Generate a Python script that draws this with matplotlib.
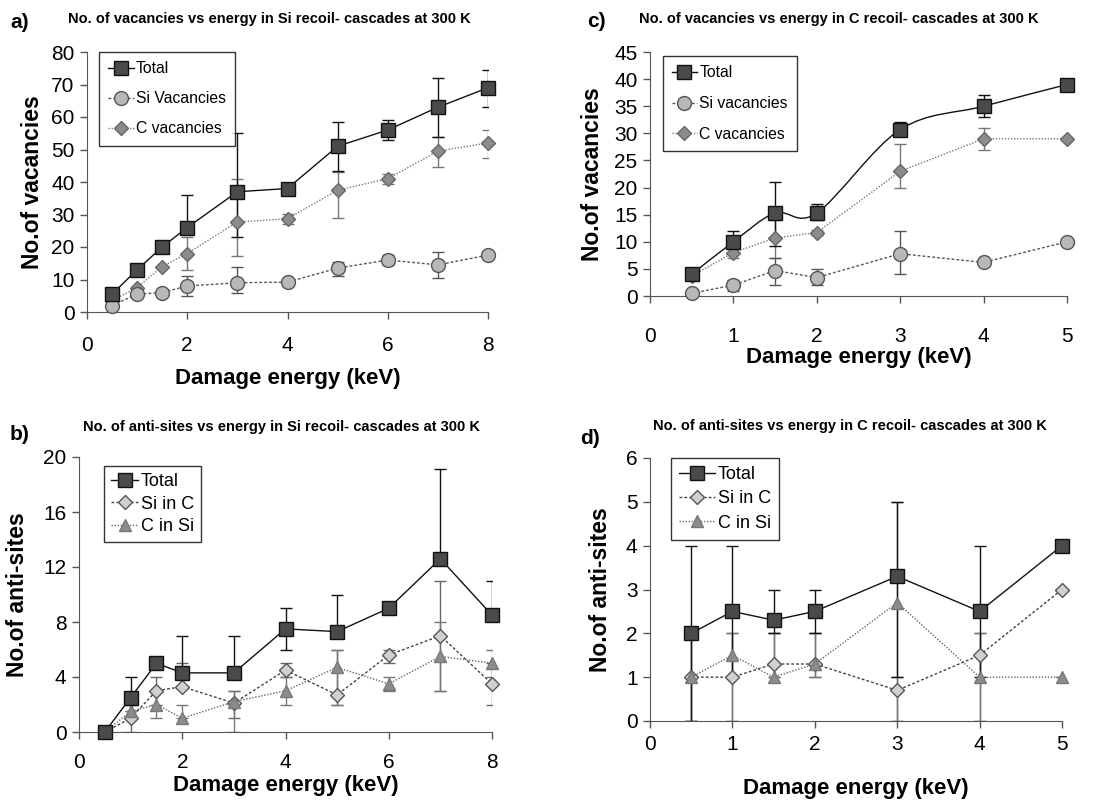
import matplotlib
matplotlib.use("Agg")
import matplotlib.pyplot as plt
import numpy as np
from matplotlib import font_manager
from matplotlib.lines import Line2D
from matplotlib.path import Path
from matplotlib.patches import PathPatch

plt.rcParams['font.family'] = ['Liberation Sans', 'DejaVu Sans']
HAVE_NARROW = any(f.name == 'Liberation Sans Narrow' for f in font_manager.fontManager.ttflist)
NARROW = ['Liberation Sans Narrow', 'Liberation Sans']

# ---- data ----
E_si = [0.5, 1, 1.5, 2, 3, 4, 5, 6, 7, 8]
E_c = [0.5, 1, 1.5, 2, 3, 4, 5]

# a) vacancies, Si recoils
a_total = [5.5, 13, 20, 26, 37, 38, 51, 56, 63, 69]
a_total_lo = [0, 0, 0, 0, 14, 1, 7.5, 3, 9, 6]
a_total_hi = [0, 0, 0, 10, 18, 1, 7.5, 3, 9, 5.5]
a_si = [2, 5.5, 6, 8, 9, 9.2, 13.5, 16, 14.5, 17.5]
a_si_lo = [0, 0, 0, 3, 3, 0, 2.5, 1.5, 4, 0]
a_si_hi = [0, 0, 0, 3, 5, 0, 2, 1.5, 4, 0]
a_c = [3.5, 7.5, 14, 18, 27.7, 28.7, 37.5, 41, 49.5, 52]
a_c_lo = [0, 0, 0, 5, 10.5, 1.5, 8.5, 1.5, 5, 4.5]
a_c_hi = [0, 0, 0, 5, 13.3, 1.5, 5.5, 1.5, 4.5, 4]

# b) anti-sites, Si recoils
b_total = [0, 2.5, 5, 4.3, 4.3, 7.5, 7.3, 9, 12.6, 8.5]
b_total_lo = [0, 1.5, 0, 0, 0, 1.5, 0, 0, 0, 0]
b_total_hi = [0, 1.5, 0, 2.7, 2.7, 1.5, 2.7, 0, 6.5, 2.5]
b_sic = [0, 1, 3, 3.3, 2.1, 4.5, 2.7, 5.6, 7, 3.5]
b_sic_lo = [0, 1, 1, 0, 1.1, 0.5, 0.7, 0.6, 4, 1.5]
b_sic_hi = [0, 1, 1, 1.7, 0.9, 0.5, 3.3, 0.4, 4, 1.5]
b_csi = [0, 1.5, 2, 1, 2.2, 3, 4.7, 3.5, 5.5, 5]
b_csi_lo = [0, 0, 1, 0, 2.2, 1, 2.7, 0.5, 2.5, 1]
b_csi_hi = [0, 0, 1, 1, 0.8, 1, 1.3, 0.5, 2.5, 1]

# c) vacancies, C recoils
c_total = [4, 10, 15.3, 15.3, 30.7, 35, 39]
c_total_lo = [0, 2, 6, 1.3, 1, 2, 0]
c_total_hi = [0, 2, 5.7, 1.7, 1.3, 2, 0]
c_si = [0.5, 2, 4.7, 3.4, 7.8, 6.2, 10]
c_si_lo = [0, 1, 2.7, 1.4, 3.8, 0, 0]
c_si_hi = [0, 1, 2.3, 1.6, 4.2, 0, 0]
c_c = [3.7, 8, 10.7, 11.7, 23, 29, 29]
c_c_lo = [0, 1, 3.7, 0.5, 3, 2, 0]
c_c_hi = [0, 1, 3.3, 0.5, 5, 2, 0]

# d) anti-sites, C recoils
d_total = [2, 2.5, 2.3, 2.5, 3.3, 2.5, 4]
d_total_lo = [2, 1.5, 0.3, 0.5, 2.3, 1.5, 0]
d_total_hi = [2, 1.5, 0.7, 0.5, 1.7, 1.5, 0]
d_sic = [1, 1, 1.3, 1.3, 0.7, 1.5, 3]
d_sic_lo = [1, 1, 0.3, 0.3, 0.7, 1.5, 0]
d_sic_hi = [1, 1, 0.7, 0.7, 0.3, 0.5, 0]
d_csi = [1, 1.5, 1, 1.3, 2.7, 1, 1]
d_csi_lo = [1, 1.5, 0, 0.3, 2.7, 1, 0]
d_csi_hi = [1, 0.5, 1, 0.7, 2.3, 1, 0]

TOT = dict(marker='s', mfc='#4a4a4a', mec='#111111', ms=10, color='#111111', ls='-', lw=1.0)
SIV = dict(marker='o', mfc='#b8b8b8', mec='#555555', ms=10, color='#555555', ls=(0, (2, 1.5)), lw=1.0)
CV = dict(marker='D', mfc='#8c8c8c', mec='#666666', ms=7, color='#777777', ls=(0, (1, 1.2)), lw=1.0)
SIC = dict(marker='D', mfc='#d0d0d0', mec='#555555', ms=7, color='#444444', ls=(0, (2, 1.5)), lw=1.0)
CSI = dict(marker='^', mfc='#8c8c8c', mec='#777777', ms=9, color='#666666', ls=(0, (1, 1.2)), lw=1.0)


def smooth_path(x, y):
    # Bezier path through the points (Catmull-Rom style, like a spreadsheet smoothed line)
    pts = np.column_stack([x, y]).astype(float)
    verts = [pts[0]]
    codes = [Path.MOVETO]
    n = len(pts)
    for i in range(n - 1):
        p0 = pts[i - 1] if i > 0 else pts[i]
        p1, p2 = pts[i], pts[i + 1]
        p3 = pts[i + 2] if i + 2 < n else pts[i + 1]
        verts += [p1 + (p2 - p0) / 6, p2 - (p3 - p1) / 6, p2]
        codes += [Path.CURVE4] * 3
    return Path(verts, codes)


def series(ax, x, y, lo, hi, st, ecolor, smooth=False):
    ax.errorbar(x, y, yerr=[lo, hi], fmt='none', ecolor=ecolor, elinewidth=1.0,
                capsize=4, capthick=1.0, zorder=2)
    if smooth:
        ax.add_patch(PathPatch(smooth_path(x, y), fill=False, edgecolor=st['color'],
                               lw=st['lw'], ls=st['ls'], zorder=3))
        ax.plot(x, y, ls='none', marker=st['marker'], mfc=st['mfc'], mec=st['mec'],
                ms=st['ms'], zorder=4, clip_on=False)
    else:
        ax.plot(x, y, zorder=3, clip_on=False, **st)


def style_axes(ax, xmax, xticks, ymax, yticks, tpad, xlab_y, ylab_x, ylabel):
    ax.set_xlim(0, xmax)
    ax.set_ylim(0, ymax)
    ax.set_xticks(xticks)
    ax.set_yticks(yticks)
    for s in ('top', 'right'):
        ax.spines[s].set_visible(False)
    ax.spines['left'].set_color('#555555')
    ax.spines['bottom'].set_color('#555555')
    ax.tick_params(axis='both', direction='out', length=5, width=1, colors='#555555',
                   labelsize=15, labelcolor='black', pad=4)
    ax.tick_params(axis='x', pad=tpad)
    ax.set_xlabel('Damage energy (keV)', fontsize=16, fontweight='bold', va='center')
    ax.xaxis.set_label_coords(0.5, xlab_y)
    ax.set_ylabel(ylabel, fontsize=16.5, fontweight='bold', va='center')
    ax.yaxis.set_label_coords(ylab_x, 0.5)


def legend(ax, styles, labels, loc, spacing, narrow, bpad, hlen):
    handles = [Line2D([0], [0], **st) for st in styles]
    if narrow:
        prop = dict(size=13, family=NARROW) if HAVE_NARROW else dict(size=11.3)
    else:
        prop = dict(size=13)
    lg = ax.legend(handles, labels, loc='upper left', bbox_to_anchor=loc, prop=prop,
                   frameon=True, fancybox=False, edgecolor='black', handlelength=hlen,
                   handletextpad=0.15, labelspacing=spacing, borderpad=bpad, borderaxespad=0)
    lg.get_frame().set_linewidth(1.0)


fig = plt.figure(figsize=(11.06, 8.01), dpi=100)
W, H = 1106, 801


def axes_px(l, r, top, bottom):
    return fig.add_axes([l / W, 1 - bottom / H, (r - l) / W, (bottom - top) / H])


title_font = dict(fontsize=10.5, fontweight='bold', family=NARROW)

# a)
ax = axes_px(87, 488, 52, 312)
series(ax, E_si, a_c, a_c_lo, a_c_hi, CV, '#777777')
series(ax, E_si, a_si, a_si_lo, a_si_hi, SIV, '#555555')
series(ax, E_si, a_total, a_total_lo, a_total_hi, TOT, '#111111')
style_axes(ax, 8, [0, 2, 4, 6, 8], 80, range(0, 81, 10), 12, -0.254, -0.137, 'No.of vacancies')
legend(ax, [TOT, SIV, CV], ['Total', 'Si Vacancies', 'C vacancies'], (0.03, 1.0), 0.95, True, 0.6, 1.6)
fig.text(10 / W, 1 - 28 / H, 'a)', fontsize=15, fontweight='bold')
fig.text(68 / W, 1 - 23 / H, 'No. of vacancies vs energy in Si recoil- cascades at 300 K', **title_font)

# b)
ax = axes_px(79, 492, 457, 732)
series(ax, E_si, b_sic, b_sic_lo, b_sic_hi, SIC, '#666666')
series(ax, E_si, b_csi, b_csi_lo, b_csi_hi, CSI, '#777777')
series(ax, E_si, b_total, b_total_lo, b_total_hi, TOT, '#111111')
style_axes(ax, 8, [0, 2, 4, 6, 8], 20, [0, 4, 8, 12, 16, 20], 10, -0.196, -0.148, 'No.of anti-sites')
legend(ax, [TOT, SIC, CSI], ['Total', 'Si in C', 'C in Si'], (0.06, 0.967), 0.3, False, 0.4, 1.5)
fig.text(10 / W, 1 - 440 / H, 'b)', fontsize=15, fontweight='bold')
fig.text(83 / W, 1 - 431 / H, 'No. of anti-sites vs energy in Si recoil- cascades at 300 K', **title_font)

# c)
ax = axes_px(650, 1067, 52, 296)
series(ax, E_c, c_c, c_c_lo, c_c_hi, CV, '#777777')
series(ax, E_c, c_si, c_si_lo, c_si_hi, SIV, '#555555')
series(ax, E_c, c_total, c_total_lo, c_total_hi, TOT, '#111111', smooth=True)
style_axes(ax, 5, [0, 1, 2, 3, 4, 5], 45, range(0, 46, 5), 17, -0.25, -0.139, 'No.of vacancies')
legend(ax, [TOT, SIV, CV], ['Total', 'Si vacancies', 'C vacancies'], (0.03, 0.984), 1.0, True, 0.6, 1.6)
fig.text(587 / W, 1 - 27 / H, 'c)', fontsize=15, fontweight='bold')
fig.text(639 / W, 1 - 23 / H, 'No. of vacancies vs energy in C recoil- cascades at 300 K', **title_font)

# d)
ax = axes_px(650, 1062, 458, 721)
series(ax, E_c, d_sic, d_sic_lo, d_sic_hi, SIC, '#666666')
series(ax, E_c, d_csi, d_csi_lo, d_csi_hi, CSI, '#777777')
series(ax, E_c, d_total, d_total_lo, d_total_hi, TOT, '#111111')
style_axes(ax, 5, [0, 1, 2, 3, 4, 5], 6, range(0, 7), 5, -0.255, -0.121, 'No.of anti-sites')
legend(ax, [TOT, SIC, CSI], ['Total', 'Si in C', 'C in Si'], (0.05, 1.0), 0.4, False, 0.45, 2.0)
fig.text(580 / W, 1 - 444 / H, 'd)', fontsize=15, fontweight='bold')
fig.text(653 / W, 1 - 430 / H, 'No. of anti-sites vs energy in C recoil- cascades at 300 K', **title_font)

fig.savefig('out.png', dpi=100)
